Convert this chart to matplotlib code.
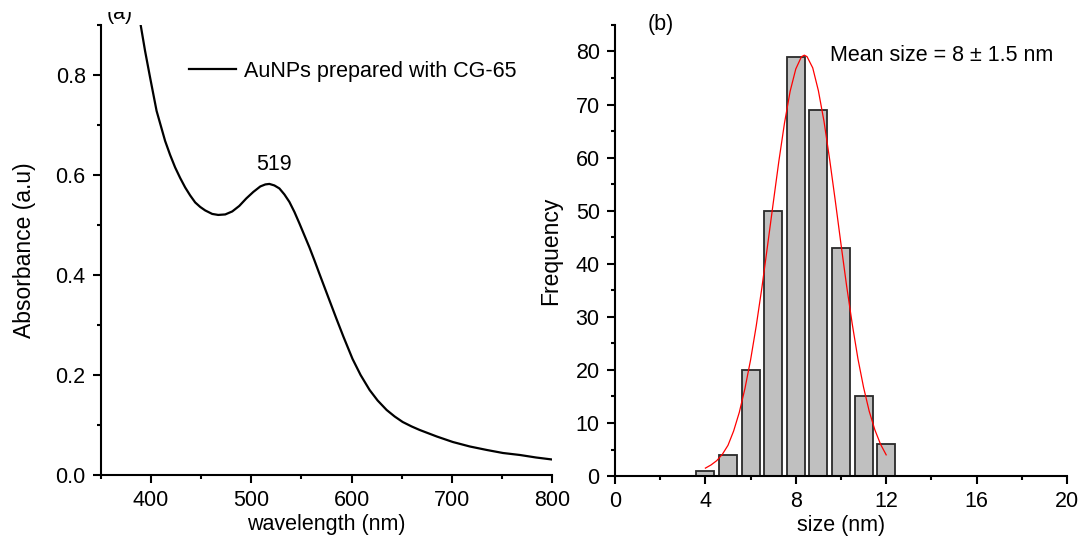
import matplotlib
matplotlib.use("Agg")
import matplotlib.pyplot as plt
from matplotlib.ticker import MultipleLocator
from matplotlib.patches import Rectangle

plt.rcParams['font.family'] = ['Liberation Sans', 'DejaVu Sans']

# (a) UV-vis spectrum
wavelength = [380, 385, 389.6, 394, 399, 405.5, 414, 419, 424, 429, 434, 439, 444, 449,
              454, 461, 467, 474, 481, 488, 495, 502, 509, 514, 518, 523, 528, 533, 538,
              543, 548, 553, 558, 563, 568, 578, 585, 592, 601, 609, 618, 626, 635, 643,
              651, 660, 668, 685, 701, 718, 735, 751, 768, 784, 800]
absorbance = [1.03, 0.965, 0.900, 0.848, 0.795, 0.728, 0.668, 0.640, 0.615, 0.594, 0.575,
              0.559, 0.545, 0.536, 0.529, 0.522, 0.520, 0.521, 0.527, 0.538, 0.553, 0.566,
              0.577, 0.581, 0.582, 0.579, 0.573, 0.561, 0.546, 0.526, 0.503, 0.479, 0.455,
              0.429, 0.402, 0.349, 0.312, 0.276, 0.232, 0.200, 0.170, 0.149, 0.130, 0.117,
              0.106, 0.097, 0.090, 0.077, 0.066, 0.057, 0.050, 0.044, 0.040, 0.035, 0.031]
peak_label = "519"

# (b) size histogram
size_bins = [4, 5, 6, 7, 8, 9, 10, 11, 12]
frequency = [1, 4, 20, 50, 79, 69, 43, 15, 6]

# fitted curve
fit_x = [4.0, 4.25, 4.5, 4.75, 5.0, 5.25, 5.5, 5.75, 6.0, 6.25, 6.5, 6.75, 7.0, 7.25,
         7.5, 7.75, 8.0, 8.25, 8.38, 8.5, 8.75, 9.0, 9.25, 9.5, 9.75, 10.0, 10.25,
         10.5, 10.75, 11.0, 11.25, 11.5, 11.75, 12.0]
fit_y = [1.5, 2.1, 2.9, 4.1, 5.8, 8.5, 12.0, 16.5, 21.9, 28.3, 35.5, 43.4, 51.4, 59.3,
         66.5, 72.5, 76.7, 79.0, 79.3, 79.0, 76.9, 72.6, 66.8, 59.6, 51.8, 43.7, 35.8,
         28.6, 22.1, 16.7, 12.2, 8.7, 6.0, 4.0]

fs = 15.5     # ticks, annotations, x labels
fs_y = 16.5   # y labels

fig = plt.figure(figsize=(10.82, 5.41), dpi=100)
ax1 = fig.add_axes([0.0933, 0.122, 0.4169, 0.832])
ax2 = fig.add_axes([0.5684, 0.120, 0.4177, 0.834])

for ax in (ax1, ax2):
    for s in ('top', 'right'):
        ax.spines[s].set_visible(False)
    for s in ('left', 'bottom'):
        ax.spines[s].set_linewidth(1.5)
    ax.tick_params(which='major', direction='out', length=6, width=1.5, labelsize=fs, pad=5)
    ax.tick_params(which='minor', direction='out', length=3, width=1.5)

# ---- (a) ----
ax1.plot(wavelength, absorbance, color='black', lw=1.6, label='AuNPs prepared with CG-65')
ax1.xaxis.set_major_locator(MultipleLocator(100))
ax1.xaxis.set_minor_locator(MultipleLocator(50))
ax1.yaxis.set_major_locator(MultipleLocator(0.2))
ax1.yaxis.set_minor_locator(MultipleLocator(0.1))
ax1.set_xticks([400, 500, 600, 700, 800])
ax1.set_xlim(350, 800)
ax1.set_ylim(0, 0.9)
ax1.set_xlabel('wavelength (nm)', fontsize=fs, labelpad=2)
ax1.set_ylabel('Absorbance (a.u)', fontsize=fs_y, labelpad=14)
ax1.text(523, 0.62, peak_label, fontsize=fs, ha='center', va='center')
ax1.legend(loc='upper left', bbox_to_anchor=(0.175, 0.94), frameon=False, fontsize=fs,
           handlelength=2.2, handletextpad=0.4, borderaxespad=0)

# panel label (a) -- its upper half is hidden in the original
fig.text(0.099, 0.9556, '(a)', fontsize=fs, ha='left', va='bottom')
fig.add_artist(Rectangle((0.095, 1 - 12 / 541), 0.04, 12 / 541, transform=fig.transFigure,
                         facecolor='white', edgecolor='none', zorder=10))

# ---- (b) ----
ax2.bar(size_bins, frequency, width=0.8, color='#c0c0c0', edgecolor='#2a2a2a', linewidth=1.3)
ax2.plot(fit_x, fit_y, color='red', lw=0.9)
ax2.set_xlim(0, 20)
ax2.set_ylim(0, 85)
ax2.xaxis.set_major_locator(MultipleLocator(4))
ax2.xaxis.set_minor_locator(MultipleLocator(2))
ax2.yaxis.set_major_locator(MultipleLocator(10))
ax2.yaxis.set_minor_locator(MultipleLocator(5))
ax2.set_xlabel('size (nm)', fontsize=fs, labelpad=2)
ax2.set_ylabel('Frequency', fontsize=fs_y, labelpad=10)
fig.text(0.611, 0.954, '(b)', fontsize=fs, ha='center', va='center')
fig.text(0.767, 0.898, 'Mean size = 8 ± 1.5 nm', fontsize=fs, ha='left', va='center')

fig.savefig('out.png', dpi=100)
